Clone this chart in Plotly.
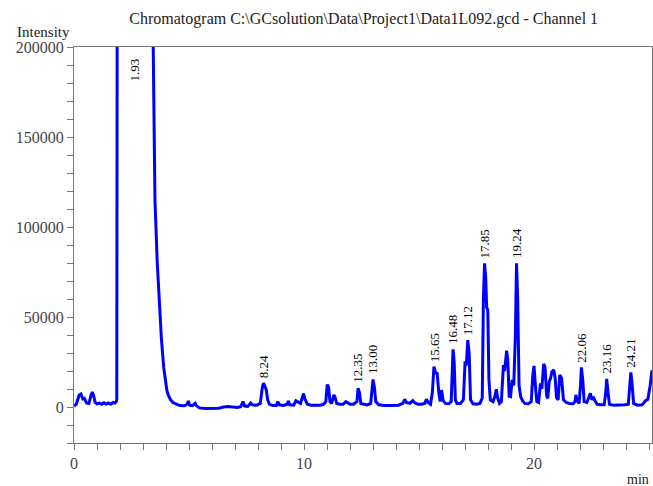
import plotly.graph_objects as go

time_min = [
    0.00, 0.10, 0.22, 0.30, 0.38, 0.45, 0.55, 0.65, 0.75, 0.80, 0.86, 0.92, 1.00, 1.10, 1.20, 1.30,
    1.40, 1.50, 1.60, 1.70, 1.78, 1.84, 1.86, 1.88, 3.40, 3.44, 3.48, 3.52, 3.62, 3.70, 3.80, 3.90,
    3.96, 4.04, 4.10, 4.20, 4.30, 4.45, 4.60, 4.80, 4.92, 4.97, 5.03, 5.15, 5.27, 5.32, 5.45, 5.70,
    6.00, 6.30, 6.50, 6.70, 6.90, 7.10, 7.25, 7.35, 7.42, 7.55, 7.68, 7.75, 7.95, 8.10, 8.19, 8.24,
    8.30, 8.36, 8.42, 8.50, 8.65, 8.80, 8.86, 8.93, 9.10, 9.27, 9.32, 9.38, 9.55, 9.65, 9.72, 9.85,
    9.93, 9.98, 10.05, 10.15, 10.30, 10.50, 10.70, 10.85, 10.95, 11.01, 11.07, 11.13, 11.20, 11.30,
    11.36, 11.42, 11.55, 11.70, 11.82, 11.88, 12.00, 12.15, 12.30, 12.35, 12.41, 12.47, 12.60, 12.75,
    12.90, 12.95, 13.00, 13.06, 13.12, 13.25, 13.50, 13.80, 14.10, 14.30, 14.38, 14.45, 14.60, 14.73,
    14.80, 14.95, 15.10, 15.25, 15.32, 15.40, 15.50, 15.58, 15.65, 15.72, 15.79, 15.86, 15.92, 15.98,
    16.05, 16.15, 16.30, 16.40, 16.45, 16.48, 16.53, 16.58, 16.65, 16.80, 16.93, 17.00, 17.06, 17.12,
    17.18, 17.24, 17.35, 17.50, 17.65, 17.75, 17.80, 17.85, 17.90, 17.94, 17.99, 18.04, 18.10, 18.22,
    18.30, 18.36, 18.42, 18.50, 18.58, 18.63, 18.67, 18.72, 18.77, 18.81, 18.86, 18.92, 18.98, 19.05,
    19.12, 19.19, 19.24, 19.29, 19.35, 19.42, 19.50, 19.60, 19.75, 19.88, 19.95, 20.00, 20.06, 20.12,
    20.20, 20.28, 20.34, 20.42, 20.48, 20.55, 20.60, 20.66, 20.72, 20.78, 20.86, 20.92, 20.98, 21.05,
    21.12, 21.20, 21.28, 21.40, 21.55, 21.70, 21.78, 21.82, 21.88, 21.96, 22.02, 22.06, 22.12, 22.18,
    22.30, 22.40, 22.45, 22.52, 22.58, 22.65, 22.75, 22.90, 23.05, 23.12, 23.16, 23.22, 23.28, 23.45,
    23.70, 23.95, 24.10, 24.16, 24.21, 24.27, 24.33, 24.50, 24.70, 24.85, 24.95, 25.05, 25.13,
]
intensity = [
    500, 1500, 6500, 7200, 4500, 4800, 2200, 2000, 7000, 8300, 6000, 2500, 1800, 2200, 1500, 2300,
    1600, 2200, 1500, 2500, 2200, 3000, 4000, 250000, 250000, 200000, 150000, 115000, 80000, 59000, 38000, 22000,
    15000, 9000, 6500, 4000, 2500, 1500, 800, 700, 1500, 3300, 1000, 800, 2000, 800, -500, -800,
    -900, -700, 0, 300, 0, -300, 200, 3000, 500, 300, 2200, 1200, 1000, 2000, 11000, 13200,
    11500, 9500, 4000, 1500, 800, 800, 3000, 1200, 900, 1500, 3300, 1200, 1000, 3500, 3000, 2000,
    5500, 7500, 4000, 1500, 1000, 800, 1000, 1500, 3000, 12500, 11000, 3000, 2000, 6700,
    5000, 2000, 1500, 1500, 3000, 2500, 1500, 1500, 3000, 10400, 8000, 2000, 1500, 1200,
    2000, 8000, 15300, 11000, 3000, 1200, 800, 800, 1000, 2000, 4300, 2500, 2000, 3500,
    2500, 1500, 1500, 2000, 4300, 2500, 1500, 8000, 22400, 19000, 18700, 8000, 3000, 9400,
    3500, 2000, 1800, 3000, 28000, 32000, 25000, 4000, 2000, 2000, 4000, 24300, 24000, 37200,
    30000, 4000, 1800, 1500, 2000, 5000, 60000, 79800, 72000, 55400, 54000, 15000, 4000, 3000,
    6000, 9800, 5000, 2000, 3000, 18000, 23300, 20000, 25000, 31300, 26000, 6000, 5700, 15000,
    12000, 40000, 79800, 60000, 12000, 5700, 3500, 2000, 1800, 3000, 18000, 22800, 12000, 3000,
    2500, 13100, 10000, 24000, 22000, 6000, 4800, 14000, 15900, 19600, 20600, 16000, 5000, 4000,
    17800, 16000, 4000, 2500, 2000, 1800, 3000, 6700, 3500, 2000, 12000, 22000, 15000, 3000,
    2500, 6000, 7600, 4000, 5700, 3500, 1500, 1200, 1200, 8000, 15600, 8000, 1500, 1000,
    1000, 1200, 1500, 12000, 19200, 12000, 2000, 1000, 1200, 3500, 4300, 12000, 20400,
]

peak_labels = ["1.93", "8.24", "12.35", "13.00", "15.65", "16.48", "17.12",
               "17.85", "19.24", "22.06", "23.16", "24.21"]

x_tick_vals = [0, 10, 20]
y_tick_vals = [0, 50000, 100000, 150000, 200000]

title_text = "Chromatogram C:\\GCsolution\\Data\\Project1\\Data1L092.gcd - Channel 1"
SERIF = "Liberation Serif, Times New Roman, serif"

fig = go.Figure()
fig.add_trace(go.Scatter(
    x=time_min, y=intensity, mode="lines",
    line=dict(color="#0000FF", width=3),
    hoverinfo="skip", showlegend=False,
))

# Peak labels
for lab in peak_labels:
    t = float(lab)
    if lab == "1.93":
        # solvent peak is off-scale; label sits at the top of the plot between the flanks
        fig.add_annotation(x=2.65, y=200000, text=lab, textangle=-90, showarrow=False,
                           xanchor="center", yanchor="top", yshift=-9,
                           font=dict(family=SERIF, size=13, color="black"))
        continue
    near = [v for tt, v in zip(time_min, intensity) if abs(tt - t) <= 0.06]
    ypk = max(near)
    fig.add_annotation(x=t, y=ypk, text=lab, textangle=-90, showarrow=False,
                       xanchor="center", yanchor="bottom", yshift=3,
                       font=dict(family=SERIF, size=13, color="black"))

fig.add_annotation(xref="paper", yref="paper", x=-0.102, y=1.037, text="Intensity",
                   showarrow=False, xanchor="left", yanchor="middle",
                   font=dict(family=SERIF, size=15, color="#222"))
fig.add_annotation(xref="paper", yref="paper", x=0.998, y=-0.093, text="min",
                   showarrow=False, xanchor="right", yanchor="middle",
                   font=dict(family=SERIF, size=14, color="#222"))

fig.update_layout(
    width=653, height=486,
    margin=dict(l=74, r=1, t=47, b=43, autoexpand=False),
    paper_bgcolor="white", plot_bgcolor="white",
    title=dict(text=title_text, x=0.557, xanchor="center", y=1 - 18 / 486, yanchor="middle",
               font=dict(family=SERIF, size=16, color="#222")),
    xaxis=dict(range=[0, 25.13], tickvals=x_tick_vals, ticktext=[str(v) for v in x_tick_vals],
               automargin=False,
               showgrid=False, zeroline=False, showline=True, linecolor="#777", linewidth=1,
               mirror=True, ticks="outside", ticklen=6, tickcolor="#777",
               minor=dict(dtick=1, ticks="outside", ticklen=6, tickcolor="#777", showgrid=False),
               tickfont=dict(family=SERIF, size=16, color="#444")),
    yaxis=dict(range=[-20000, 200000], tickvals=y_tick_vals, ticktext=[str(v) for v in y_tick_vals],
               automargin=False,
               showgrid=False, zeroline=False, showline=True, linecolor="#777", linewidth=1,
               mirror=True, ticks="outside", ticklen=6, tickcolor="#777",
               minor=dict(dtick=10000, ticks="outside", ticklen=6, tickcolor="#777", showgrid=False),
               tickfont=dict(family=SERIF, size=16, color="#444")),
)

fig.write_html("out.html", config={"displayModeBar": False},
               post_script="document.body.style.margin='0';")
